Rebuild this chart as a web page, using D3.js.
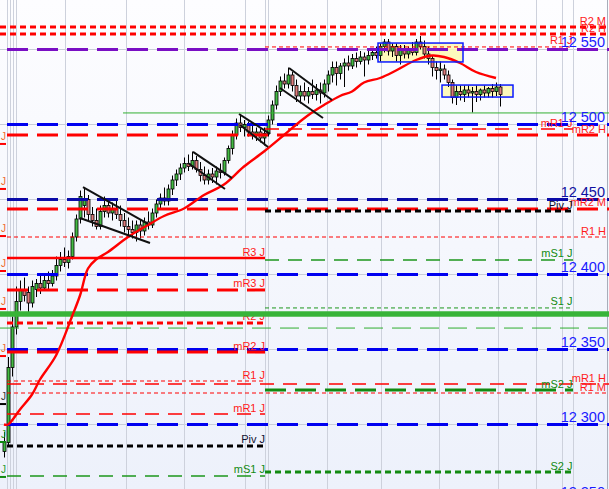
<!DOCTYPE html>
<html><head><meta charset="utf-8">
<script src="https://cdn.jsdelivr.net/npm/d3@7"></script>
<style>html,body{margin:0;padding:0;background:#fff;overflow:hidden}svg{display:block;font-family:"Liberation Sans",Arial,sans-serif}</style>
</head><body><svg id="c" width="609" height="489"></svg>
<script>
// ---------- DATA ----------
const opens = [12282,12288,12338,12365,12382,12390,12388,12381,12390,12394,
12391,12396,12394,12399,12406,12410,12408,12412,12425,12437,
12446,12450,12440,12436,12432,12442,12446,12441,12444,12440,
12436,12432,12430,12428,12433,12429,12435,12433,12441,12447,
12451,12449,12457,12463,12467,12471,12474,12472,12476,12470,
12466,12463,12467,12465,12469,12468,12476,12484,12493,12501,
12498,12500,12495,12493,12495,12491,12494,12503,12513,12522,
12529,12527,12533,12526,12519,12522,12519,12522,12520,12523,
12521,12527,12533,12538,12534,12539,12541,12539,12544,12542,
12545,12543,12546,12548,12546,12552,12555,12549,12552,12546,
12550,12547,12550,12548,12555,12552,12547,12544,12538,12536,
12537,12533,12528,12518,12522,12520,12523,12521,12522,12520,
12523,12521,12524,12522,12525];
const highs = [12295,12345,12372,12392,12396,12398,12392,12396,12397,12399,
12400,12402,12403,12412,12415,12418,12416,12428,12440,12456,
12458,12453,12445,12444,12446,12452,12450,12448,12449,12446,
12441,12438,12436,12436,12437,12438,12442,12444,12450,12454,
12458,12460,12466,12470,12474,12478,12480,12482,12479,12475,
12472,12470,12471,12472,12474,12478,12486,12496,12504,12507,
12503,12502,12500,12498,12497,12498,12506,12516,12526,12532,
12534,12538,12535,12530,12526,12528,12525,12530,12527,12528,
12530,12536,12542,12542,12541,12544,12546,12547,12548,12549,
12548,12550,12551,12552,12554,12557,12557,12554,12554,12553,
12553,12552,12555,12557,12559,12556,12552,12546,12542,12542,
12540,12536,12530,12526,12526,12526,12526,12525,12526,12524,
12526,12525,12527,12528,12527];
const lows = [12278,12285,12332,12360,12376,12382,12375,12378,12385,12387,
12389,12390,12392,12396,12402,12405,12404,12410,12422,12434,
12438,12436,12432,12430,12430,12438,12438,12436,12437,12432,
12428,12426,12424,12422,12424,12426,12430,12431,12438,12443,
12446,12446,12453,12459,12463,12468,12469,12470,12468,12462,
12460,12460,12461,12460,12464,12466,12474,12480,12490,12495,
12492,12492,12490,12489,12488,12486,12492,12500,12510,12519,
12524,12524,12522,12515,12514,12516,12514,12517,12516,12514,
12518,12522,12528,12526,12530,12525,12536,12537,12538,12540,
12532,12540,12543,12544,12542,12548,12546,12545,12542,12540,
12544,12544,12546,12546,12550,12544,12540,12532,12530,12528,
12530,12525,12514,12513,12516,12515,12518,12508,12515,12516,
12518,12518,12518,12519,12512];
const closes = [12288,12338,12365,12382,12390,12386,12381,12392,12394,12391,
12396,12394,12399,12406,12410,12408,12412,12425,12437,12452,
12450,12440,12436,12432,12442,12446,12441,12444,12440,12436,
12432,12430,12428,12433,12429,12435,12433,12441,12447,12451,
12449,12457,12463,12467,12471,12474,12472,12476,12470,12466,
12463,12467,12465,12469,12468,12476,12484,12493,12501,12498,
12500,12495,12493,12495,12491,12494,12503,12513,12522,12529,
12527,12533,12526,12519,12522,12519,12522,12520,12523,12521,
12527,12533,12538,12534,12539,12541,12539,12544,12542,12545,
12543,12546,12548,12546,12552,12555,12549,12552,12546,12550,
12547,12550,12548,12555,12552,12547,12544,12538,12536,12537,
12533,12528,12518,12522,12520,12523,12521,12522,12520,12523,
12521,12524,12522,12525,12520];

// moving average (bar index, value)
const maIndex  = [0,1,4,7,9,13,17,19,21,23,26,31,36,40,45,50,55,60,65,70,74,77,80,84,87,90,94,98,103,107,110,114,118,123];
const maValues = [12300,12300,12310,12320,12330,12346,12372,12386,12404,12410,12415,12425,12433,12439,12444,12453,12460,12472,12482,12493,12502,12508,12513,12519,12522,12528,12531,12536,12543,12546,12545,12541,12535,12531];

// price round levels
const roundLevels = [12550,12500,12450,12400,12350,12300,12250];
const roundLabels = ["12 550","12 500","12 450","12 400","12 350","12 300","12 250"];

// pivot levels (J = daily, H = weekly, M = monthly)
const pivotNames   = ["R2 M","R2 H","R1 J","mR1 J","mR2 H","mR2 M","Piv J","R1 H","R3 J","mS1 J","mR3 J","S1 J","R2 J","mR2 J","R1 J","mR1 H","mS2 J","R1 M","mR1 J","Piv J","S2 J","mS1 J"];
const pivotValues  = [12565,12560.3,12551.7,12497,12493,12443.7,12442.3,12425,12411,12409.7,12389.7,12377.7,12367.7,12348.3,12329,12327,12323,12321,12307,12285.7,12268.3,12265.7];
const pivotSession = ["all","all","cur","cur","all","all","cur","all","prev","cur","prev","cur","prev","prev","prev","all","cur","all","prev","prev","cur","prev"];

// user drawn horizontal lines
const userLevels = [12507.7, 12373.7, 12364.3];
const userKinds  = ["thin","thick","dashed"];

// session boundaries (bar index units)
const sessionPrevStart = 0.75, sessionCurStart = 65.25, sessionCurEnd = 142.25;
const timeGrid = [0.75,1.5,2.25,3,15.25,30.5,45,60.25,65.25,66,80.75,94.25,108.75,123.5,133,139.5,142.25,150.75];

// flag channels
const flagI0 = [19.75,19,47.25,46,58.75,59,71.25,69];
const flagV0 = [12458.3,12437.7,12481.7,12474.3,12507,12499.7,12537.7,12524.3];
const flagI1 = [36,36.5,57,55.25,66.5,66,82,79.75];
const flagV1 = [12433.7,12421,12464.3,12457,12493.7,12485,12516.3,12504.3];

// consolidation boxes
const boxI0 = [93.5,109.5], boxI1 = [114.75,127.25], boxHi = [12554.3,12526.3], boxLo = [12541.7,12518.3];

// older-day J markers at left edge
const jPrices = [12491.7,12461.7,12430.3,12407,12381.7,12350.3,12318.3,12293,12269.7];
const jKinds  = ["R","R","R","R","R","R","P","S","S"];

// ---------- CHART ----------
const W = 609, H = 489;
const svg = d3.select("#c");
const x = d3.scaleLinear().domain([0,124]).range([4,500]);
const y = d3.scaleLinear().domain([12250,12550]).range([499.5,49.5]);

const defs = svg.append("defs");
const g = defs.append("linearGradient").attr("id","bg").attr("x1",0).attr("y1",0).attr("x2",0).attr("y2",1);
g.append("stop").attr("offset","0%").attr("stop-color","#fdfdff");
g.append("stop").attr("offset","100%").attr("stop-color","#edf1fb");
svg.append("rect").attr("width",W).attr("height",H).attr("fill","url(#bg)");

// grids
svg.append("g").selectAll("line").data(roundLevels).join("line")
  .attr("x1",0).attr("x2",W).attr("y1",d=>y(d)).attr("y2",d=>y(d))
  .attr("stroke","#c9cdd8").attr("stroke-width",1);
svg.append("g").selectAll("line").data(timeGrid).join("line")
  .attr("x1",d=>Math.round(x(d))+0.5).attr("x2",d=>Math.round(x(d))+0.5).attr("y1",0).attr("y2",H)
  .attr("stroke",(d,i)=>i===timeGrid.length-1?"#a8adba":"#cdd1dc").attr("stroke-width",1);

// box fills
const boxes = boxI0.map((d,i)=>({i0:d,i1:boxI1[i],hi:boxHi[i],lo:boxLo[i]}));
svg.append("g").selectAll("rect").data(boxes).join("rect")
  .attr("x",d=>x(d.i0)).attr("y",d=>y(d.hi)).attr("width",d=>x(d.i1)-x(d.i0)).attr("height",d=>y(d.lo)-y(d.hi))
  .attr("fill","#fdf8b0").attr("fill-opacity",0.85);

// candles
const bars = opens.map((o,i)=>({i,o,h:highs[i],l:lows[i],c:closes[i]}));
const cg = svg.append("g");
cg.selectAll("line").data(bars).join("line")
  .attr("x1",d=>x(d.i)+0.5).attr("x2",d=>x(d.i)+0.5).attr("y1",d=>y(d.h)).attr("y2",d=>y(d.l))
  .attr("stroke","#000").attr("stroke-width",1);
cg.selectAll("rect").data(bars).join("rect")
  .attr("x",d=>x(d.i)-1).attr("width",3)
  .attr("y",d=>y(Math.max(d.o,d.c))).attr("height",d=>Math.max(1,Math.abs(y(d.o)-y(d.c))))
  .attr("fill",d=>d.c>=d.o?"#44bb44":"#de7c7c").attr("stroke","#000").attr("stroke-width",0.8);

// level styles
function pivotStyle(name){
  const base = name.split(" ")[0];
  let color = base.includes("S")?"#118a11":(base==="Piv"?"#000":"#ff0000");
  let w=1, dash="4,3";
  if(base==="R3"||base==="S3"){w=2.5;dash=null;}
  else if(base==="R2"||base==="S2"||base==="Piv"){w=3;dash="6,4";}
  else if(base==="R1"||base==="S1"){w=1;dash="4,3";}
  else if(base==="mR1"||base==="mS1"){w=1.4;dash="14,9";}
  else {w=3;dash="21,9";}
  if(base==="mS1"||base==="S1"){color="#1c961c";}
  return {color,w,dash};
}
function extent(s){
  if(s==="prev") return [x(sessionPrevStart), x(sessionCurStart)];
  if(s==="cur") return [x(sessionCurStart), x(sessionCurEnd)];
  return [x(sessionPrevStart), W];
}
const lg = svg.append("g");
// round levels dashed
roundLevels.forEach((v,i)=>{
  lg.append("line").attr("x1",x(sessionPrevStart)).attr("x2",W).attr("y1",y(v)).attr("y2",y(v))
   .attr("stroke", v===12550?"#7a0fc4":(v===12450?"#0a0aa8":"#0000f0"))
   .attr("stroke-width",3).attr("stroke-dasharray","21,9");
});
pivotNames.forEach((n,i)=>{
  const st = pivotStyle(n), ex = extent(pivotSession[i]);
  lg.append("line").attr("x1",n.startsWith("R2 ")&&pivotSession[i]==="all"?0:ex[0]).attr("x2",ex[1])
    .attr("y1",y(pivotValues[i])).attr("y2",y(pivotValues[i]))
    .attr("stroke",st.color).attr("stroke-width",st.w).attr("stroke-dasharray",st.dash);
});
// user lines
userLevels.forEach((v,i)=>{
  const k=userKinds[i];
  const l = lg.append("line").attr("y1",y(v)).attr("y2",y(v)).attr("x2",W);
  if(k==="thin") l.attr("x1",x(29.75)).attr("stroke","#33b033").attr("stroke-width",1);
  if(k==="dashed") l.attr("x1",0).attr("stroke","#2fae2f").attr("stroke-width",1).attr("stroke-dasharray","19,9");
  if(k==="thick") l.attr("class","thick").attr("x1",0).attr("stroke","#38b438").attr("stroke-width",5.5);
});

// labels
const tg = svg.append("g").style("font-size","11px");
pivotNames.forEach((n,i)=>{
  const s = pivotSession[i];
  const st = pivotStyle(n);
  const xr = s==="prev"? x(sessionCurStart) : (s==="cur"? x(sessionCurEnd)-0.5 : 606);
  tg.append("text").attr("x",xr).attr("y",y(pivotValues[i])-2.5).attr("text-anchor","end")
    .attr("fill", st.color==="#000"?"#101030":(st.color==="#ff0000"?"#ff1a1a":"#128a12")).text(n);
});
svg.append("g").style("font-size","14.5px").selectAll("text").data(roundLevels).join("text")
  .attr("x",605).attr("y",d=>y(d)-2.5).attr("text-anchor","end")
  .attr("fill",d=>d===12450?"#1010a0":"#1a1aff").text((d,i)=>roundLabels[i]);

// raise thick green line above prev labels
lg.select(".thick").raise();
svg.node().appendChild(lg.select(".thick").node());

// left J markers
const jg = svg.append("g").style("font-size","10px");
jPrices.forEach((v,i)=>{
  const c = jKinds[i]==="R"?"#f06a2a":(jKinds[i]==="P"?"#333":"#2a9a2a");
  jg.append("text").attr("x",1).attr("y",y(v)+3).attr("fill",c).text("J");
  jg.append("line").attr("x1",0).attr("x2",6).attr("y1",y(v)+7).attr("y2",y(v)+7)
    .attr("stroke",jKinds[i]==="R"?"#ff0000":(jKinds[i]==="P"?"#000":"#118a11")).attr("stroke-width",2);
});

// moving average
const ma = maIndex.map((d,i)=>[d,maValues[i]]);
svg.append("path").datum(ma)
  .attr("d",d3.line().x(d=>x(d[0])).y(d=>y(d[1])).curve(d3.curveCatmullRom))
  .attr("fill","none").attr("stroke","#ff0000").attr("stroke-width",2.4);

// flags
svg.append("g").selectAll("line").data(flagI0).join("line")
  .attr("x1",d=>x(d)).attr("y1",(d,i)=>y(flagV0[i])).attr("x2",(d,i)=>x(flagI1[i])).attr("y2",(d,i)=>y(flagV1[i]))
  .attr("stroke","#111").attr("stroke-width",2);

// box outlines
svg.append("g").selectAll("rect").data(boxes).join("rect")
  .attr("x",d=>x(d.i0)).attr("y",d=>y(d.hi)).attr("width",d=>x(d.i1)-x(d.i0)).attr("height",d=>y(d.lo)-y(d.hi))
  .attr("fill","none").attr("stroke","#0a1aff").attr("stroke-width",1.5);
</script></body></html>
